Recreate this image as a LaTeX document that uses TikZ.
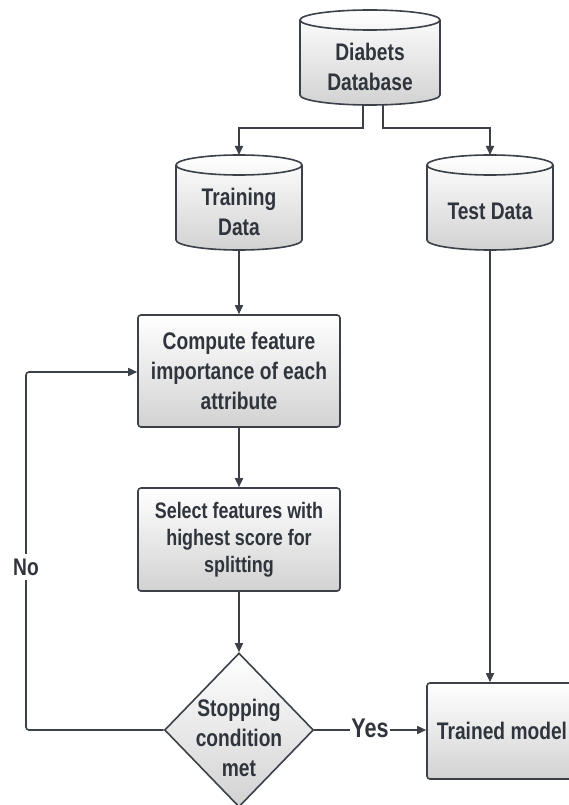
\documentclass[tikz,border=0pt]{standalone}
\usepackage{fontspec}
\setmainfont{Liberation Sans}[FakeStretch=0.8]
\usetikzlibrary{arrows.meta,shapes.geometric,calc}

\definecolor{ink}{HTML}{3B4049}
\definecolor{txt}{HTML}{30353D}
\definecolor{shadebot}{HTML}{D2D2D2}

\tikzset{
  flow/.style={draw=ink, line width=1.6pt, top color=white, bottom color=shadebot},
  bigtext/.style={text=txt, align=center, font=\bfseries\fontsize{24}{30}\selectfont},
  midtext/.style={text=txt, align=center, font=\bfseries\fontsize{22.4}{27}\selectfont},
  procbox/.style={flow, rounded corners=3pt, minimum width=202pt, bigtext},
  decision/.style={flow, diamond, inner sep=0pt, minimum width=149pt, minimum height=154pt},
  lbl/.style={bigtext, inner sep=1pt},
  wire/.style={draw=ink, line width=1.6pt},
  conn/.style={wire, -{Triangle[length=9pt,width=8pt]}},
}

% database drum: name, centre x, top y (downwards), width, height, text
\newcommand\drum[6]{%
  \pgfmathsetmacro\rx{#4/2}%
  \path[flow] (#2-\rx,-#3-10) -- (#2-\rx,-#3-#5+10)
    arc[start angle=180,end angle=360,x radius=\rx pt,y radius=10pt]
    -- (#2+\rx,-#3-10)
    arc[start angle=0,end angle=180,x radius=\rx pt,y radius=10pt] -- cycle;
  \draw[wire] (#2-\rx,-#3-10)
    arc[start angle=180,end angle=360,x radius=\rx pt,y radius=10pt];
  \coordinate (#1-top) at (#2,-#3);
  \coordinate (#1-bot) at (#2,-#3-#5);
  \node[bigtext] (#1) at (#2,-#3-#5/2-9) {#6};
}

\begin{document}
\begin{tikzpicture}[x=1pt,y=1pt]
\useasboundingbox (0,0) rectangle (568,-805);

% data stores
\drum{db}{370}{10}{140}{95}{Diabets\\Database}
\drum{train}{239}{155}{126}{95}{Training\\Data}
\drum{test}{490}{155}{126}{95}{Test Data}

% processing steps
\node[procbox, minimum height=112pt] (comp) at (239,-371)
  {Compute feature\\importance of each\\attribute};
\node[procbox, minimum height=103pt, midtext] (sel) at (239,-539.5)
  {Select features with\\highest score for\\splitting};
\node[decision] (stop) at (239,-730) {};
\node[bigtext] (stoptxt) at (239,-738) {Stopping\\condition\\met};
\node[procbox, minimum width=150pt, minimum height=96pt] (model) at (502,-731)
  {Trained model};

% split of the database
\coordinate (dbL) at ($(db-bot)+(-7,1)$);
\coordinate (dbR) at ($(db-bot)+(13,1)$);
\draw[conn] (dbL) -- ++(0,-24) -| (train-top);
\draw[conn] (dbR) -- ++(0,-24) -| (test-top);

% main flow
\draw[conn] (train-bot) -- (comp.north);
\draw[conn] (comp.south) -- (sel.north);
\draw[conn] (sel.south) -- (stop.north);
\draw[conn] (test-bot) -- (test-bot |- model.north);

% yes branch
\node[lbl, font=\bfseries\fontsize{27}{30}\selectfont] (yes) at (370,-728) {Yes};
\draw[wire] (stop.east) -- (stop.east -| yes.west);
\draw[conn] (stop.east -| yes.east) -- (stop.east -| model.west);

% no branch, back to the first step
\coordinate (loopB) at (26,-730);
\coordinate (loopT) at (26,-372);
\draw[conn, rounded corners=3pt] (stop.west) -- (loopB) -- (loopT) -- (loopT -| comp.west);
\node[lbl, fill=white, inner ysep=5pt] (no) at (26,-567) {No};
\end{tikzpicture}
\end{document}
